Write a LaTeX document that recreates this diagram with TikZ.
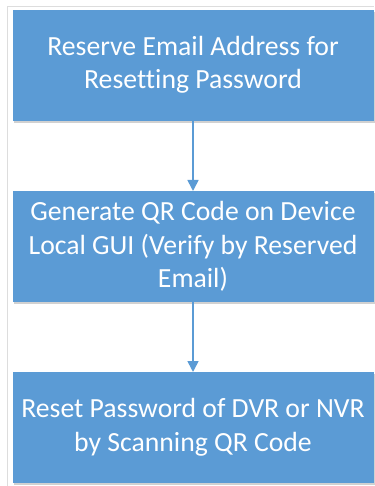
\documentclass[tikz,border=0pt]{standalone}
\usepackage{fontspec}
\setmainfont{Carlito}[Ligatures={NoCommon}]
\usetikzlibrary{arrows.meta}
\definecolor{boxblue}{HTML}{5B9BD5}
\definecolor{framegray}{HTML}{DDDDDD}
\tikzset{
  stepbox/.style={fill=boxblue, draw=none, minimum width=361pt, minimum height=111pt, inner sep=0pt, anchor=north west},
  shadowbox/.style={fill=black!18, draw=none, minimum width=361pt, minimum height=111pt, anchor=north west},
  boxtext/.style={text=white, font=\fontsize{27.7pt}{33.5pt}\selectfont, align=center, inner sep=0pt},
  flow/.style={draw=boxblue, line width=1.6pt, -{Triangle[width=11pt,length=11pt]}}
}
\begin{document}
\begin{tikzpicture}[x=1pt,y=1pt]
\useasboundingbox (0,0) rectangle (374,-486);
\draw[framegray, line width=1pt] (7,-486) -- (7,-7) -- (374,-7);
% shadows
\node[shadowbox] (sa) at (13.5,-11.5) {};
\node[shadowbox] (sb) at (13.5,-192.5) {};
\node[shadowbox] (sc) at (13.5,-373.5) {};
% boxes
\node[stepbox] (a) at (13,-10) {};
\node[stepbox] (b) at (13,-191) {};
\node[stepbox] (c) at (13,-372) {};
\node[boxtext] (ta) at (193,-65) {Reserve Email Address for\\Resetting Password};
\node[boxtext] (tb) at (193,-246.5) {Generate QR Code on Device\\Local GUI (Verify by Reserved\\Email)};
\node[boxtext] (tc) at (193,-427.5) {Reset Password of DVR or NVR\\by Scanning QR Code};
\coordinate (a1) at (193,-121);
\coordinate (b0) at (193,-191);
\coordinate (b1) at (193,-302);
\coordinate (c0) at (193,-372);
\draw[flow] (a1) -- (b0);
\draw[flow] (b1) -- (c0);
\end{tikzpicture}
\end{document}
